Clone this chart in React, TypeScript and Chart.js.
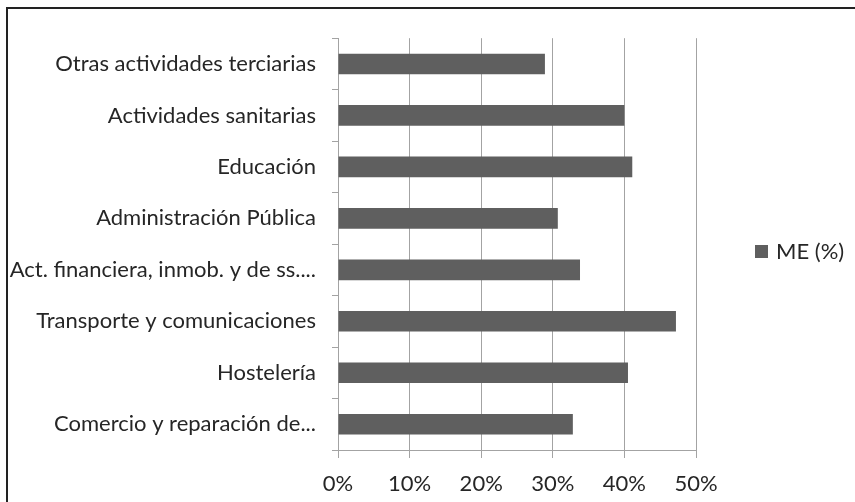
import React, { useEffect, useRef } from "react";
import { Chart, registerables } from "chart.js";

Chart.register(...registerables);

const categories = [
  "Otras actividades terciarias",
  "Actividades sanitarias",
  "Educación",
  "Administración Pública",
  "Act. financiera, inmob. y de ss....",
  "Transporte y comunicaciones",
  "Hostelería",
  "Comercio y reparación de...",
];
const seriesName = "ME (%)";
const meValues = [28.9, 40.0, 41.1, 30.7, 33.8, 47.2, 40.5, 32.8];
const xTicks = [0, 10, 20, 30, 40, 50];

const FONT = "Lato, 'Open Sans', sans-serif";
const TEXT = "#262626";
const GRID = "#a3a3a3";
const BAR = "#5f5f5f";

const sideLegend = {
  id: "sideLegend",
  afterDraw(chart: any) {
    const ctx = chart.ctx;
    const ds = chart.data.datasets[0];
    const x = chart.chartArea.right + 59;
    const cy = chart.height / 2 - 4;
    ctx.save();
    ctx.fillStyle = ds.backgroundColor;
    ctx.fillRect(x, cy - 6.5, 13, 13);
    ctx.fillStyle = TEXT;
    ctx.font = "22px " + FONT;
    ctx.textAlign = "left";
    ctx.textBaseline = "middle";
    ctx.fillText(ds.label, x + 21, cy);
    ctx.restore();
  },
};

export default function App() {
  const ref = useRef<HTMLCanvasElement | null>(null);
  useEffect(() => {
    if (!ref.current) return;
    const chart = new Chart(ref.current, {
      type: "bar",
      data: {
        labels: categories,
        datasets: [
          {
            label: seriesName,
            data: meValues,
            backgroundColor: BAR,
            borderWidth: 0,
            barPercentage: 0.4,
            categoryPercentage: 1,
          },
        ],
      },
      plugins: [sideLegend],
      options: {
        indexAxis: "y",
        animation: false,
        responsive: false,
        maintainAspectRatio: false,
        layout: { padding: { top: 9, right: 159, bottom: 0, left: 0 } },
        plugins: {
          tooltip: { enabled: false },
          legend: { display: false },
        },
        scales: {
          x: {
            min: 0,
            max: 50,
            afterBuildTicks: (s: any) => {
              s.ticks = xTicks.map((v) => ({ value: v }));
            },
            afterFit: (s: any) => {
              s.height = 52;
            },
            ticks: {
              color: TEXT,
              font: { family: FONT, size: 22 },
              padding: 13,
              callback: (v: any) => v + "%",
            },
            grid: { color: GRID, lineWidth: 1, tickLength: 8, drawTicks: true },
            border: { color: GRID, width: 1 },
          },
          y: {
            afterFit: (s: any) => {
              s.width = 330;
            },
            ticks: {
              color: TEXT,
              font: { family: FONT, size: 22 },
              padding: 16,
            },
            grid: {
              offset: true,
              drawOnChartArea: false,
              drawTicks: true,
              tickLength: 6,
              color: GRID,
            },
            border: { color: GRID, width: 1 },
          },
        },
      },
    });
    return () => chart.destroy();
  }, []);
  return (
    <div
      style={{
        position: "absolute",
        left: 6,
        top: 7,
        width: 849,
        height: 495,
        borderTop: "2px solid #222",
        borderLeft: "2px solid #222",
        background: "#fff",
        overflow: "hidden",
      }}
    >
      <canvas ref={ref} width={847} height={493} style={{ display: "block" }} />
    </div>
  );
}
